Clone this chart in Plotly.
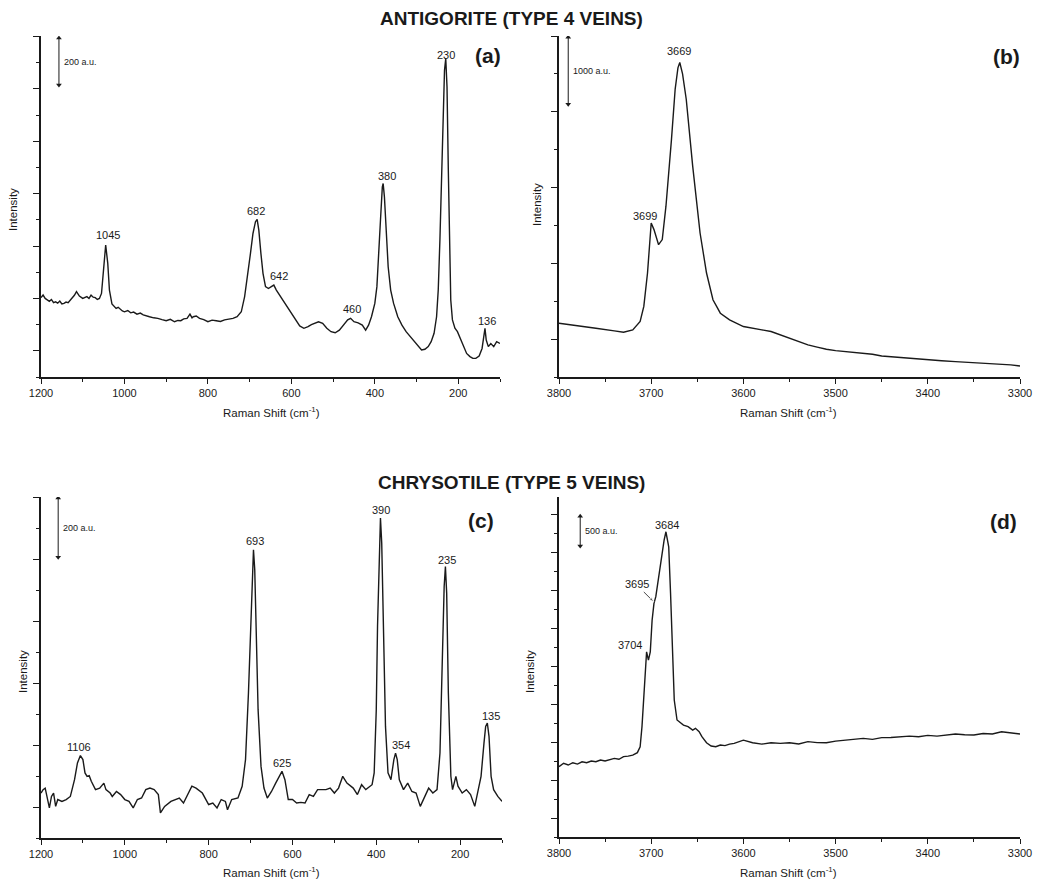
import plotly.graph_objects as go

# ---------------- data ----------------
# (a) Antigorite, low wavenumber region
a_x = [1200, 1195, 1190, 1185, 1180, 1175, 1170, 1165, 1160, 1155, 1150, 1145, 1140, 1135, 1130, 1125, 1120, 1115,
       1108, 1100, 1095, 1090, 1085, 1080, 1075, 1070, 1065, 1060, 1055, 1050, 1045, 1040, 1036, 1030, 1025, 1020,
       1015, 1010, 1005, 1000, 992, 985, 978, 970, 962, 955, 948, 940, 930, 920, 910, 900, 890, 880, 872, 865, 858,
       850, 843, 838, 835, 828, 820, 810, 800, 790, 780, 770, 760, 750, 740, 730, 720, 712, 705, 698, 692, 686, 682,
       678, 673, 668, 662, 655, 648, 642, 636, 628, 620, 610, 600, 590, 580, 570, 560, 552, 545, 535, 525, 515, 505,
       495, 485, 475, 465, 458, 450, 440, 430, 422, 415, 408, 400, 395, 390, 386, 382, 380, 377, 373, 368, 362, 355,
       345, 335, 325, 315, 305, 295, 288, 280, 272, 265, 258, 252, 248, 244, 240, 236, 233, 230, 227, 224, 221, 218,
       214, 208, 202, 195, 188, 180, 172, 165, 158, 150, 143, 139, 136, 133, 128, 122, 115, 108, 100]
a_y = [303, 313, 300, 294, 289, 296, 284, 287, 282, 290, 279, 281, 286, 284, 293, 303, 312, 326,
       309, 300, 304, 307, 300, 313, 305, 303, 296, 300, 319, 421, 504, 434, 332, 279, 272, 262,
       266, 258, 252, 249, 254, 245, 248, 240, 244, 237, 233, 230, 226, 224, 219, 215, 220, 211, 216, 215, 222,
       224, 240, 226, 230, 233, 224, 219, 211, 217, 215, 212, 218, 221, 224, 230, 249, 307, 383, 472, 548, 593, 602,
       561, 472, 396, 345, 338, 345, 351, 332, 313, 294, 268, 243, 218, 195, 186, 192, 200, 205, 211, 205, 186, 173,
       169, 179, 198, 218, 224, 211, 207, 198, 179, 198, 230, 281, 345, 472, 612, 726, 739, 688, 548, 421, 332, 281,
       230, 198, 173, 154, 135, 116, 103, 106, 116, 135, 167, 230, 332, 523, 777, 1032, 1171, 1216, 1108, 803, 485, 294,
       218, 186, 173, 148, 116, 90, 78, 71, 71, 80, 109, 167, 186, 141, 116, 128, 116, 135, 128]

# (b) Antigorite, OH stretching region
b_x = [3800, 3790, 3780, 3770, 3760, 3750, 3740, 3730, 3720, 3712, 3708, 3704, 3700, 3697, 3692, 3688, 3684, 3678,
       3674, 3671, 3669, 3666, 3662, 3655, 3647, 3640, 3633, 3625, 3615, 3600, 3590, 3580, 3570, 3560, 3550, 3540,
       3530, 3520, 3510, 3500, 3490, 3480, 3470, 3460, 3450, 3435, 3420, 3400, 3385, 3370, 3350, 3335, 3320, 3310,
       3300]
b_y = [710, 690, 675, 660, 644, 630, 609, 591, 622, 732, 931, 1372, 2033, 1945, 1746, 1813, 2254, 3136,
       3800, 4080, 4150, 4000, 3665, 2783, 1900, 1372, 1019, 842, 754, 666, 640, 622, 600, 556, 512, 470,
       423, 395, 366, 348, 335, 322, 318, 300, 278, 262, 247, 225, 215, 203, 190, 180, 168, 160,
       146]

# (c) Chrysotile, low wavenumber region
c_x = [1200, 1195, 1190, 1185, 1180, 1175, 1170, 1165, 1160, 1150, 1140, 1130, 1120, 1113, 1106, 1100, 1095, 1090,
       1085, 1080, 1070, 1060, 1050, 1045, 1035, 1030, 1020, 1010, 1000, 990, 980, 970, 960, 950, 940, 930, 920,
       915, 905, 890, 870, 860, 850, 840, 830, 815, 800, 790, 780, 770, 760, 755, 745, 730, 720, 712, 705, 700,
       696, 693, 690, 686, 682, 675, 668, 660, 650, 640, 630, 625, 618, 610, 600, 590, 580, 570, 560, 550, 540,
       520, 510, 500, 490, 480, 470, 455, 445, 435, 425, 410, 405, 400, 397, 393, 390, 387, 383, 378, 372, 365,
       358, 354, 350, 345, 335, 325, 315, 305, 295, 285, 275, 265, 255, 248, 243, 238, 235, 232, 228, 222, 218,
       210, 205, 195, 185, 175, 165, 158, 150, 143, 139, 135, 131, 126, 120, 110, 100]
c_y = [45, 56, 61, 29, -3, 34, 45, 2, 24, 18, 24, 34, 88, 142, 166, 153, 110, 99,
       101, 83, 56, 61, 77, 56, 45, 34, 50, 40, 24, 18, -3, 24, 29, 56, 61, 56, 40,
       -19, 2, 18, 29, 13, 40, 67, 61, 45, 8, 13, -3, 24, 18, -9, 24, 29, 67, 153, 368, 583,
       766, 830, 766, 530, 314, 131, 61, 29, 50, 77, 104, 115, 88, 24, 24, 13, 15, 13, 40, 34, 56,
       56, 61, 45, 61, 99, 77, 61, 40, 72, 56, 72, 110, 314, 583, 817, 932, 852, 583, 260, 110, 88,
       153, 174, 153, 88, 56, 77, 50, 45, 2, 29, 61, 45, 56, 174, 476, 712, 776, 690, 368, 99, 56,
       99, 67, 45, 56, 40, 2, 45, 99, 206, 260, 271, 228, 99, 56, 34, 18]

# (d) Chrysotile, OH stretching region
d_x = [3800, 3795, 3790, 3785, 3780, 3775, 3770, 3765, 3760, 3755, 3750, 3745, 3740, 3735, 3730, 3725, 3720, 3715,
       3712, 3710, 3707, 3705, 3703, 3701, 3699, 3697, 3695, 3692, 3689, 3686, 3684, 3681, 3679, 3677, 3675, 3672,
       3668, 3665, 3660, 3655, 3652, 3648, 3645, 3640, 3635, 3630, 3625, 3620, 3615, 3610, 3600, 3590, 3580, 3570,
       3560, 3550, 3540, 3530, 3520, 3510, 3500, 3490, 3480, 3470, 3460, 3450, 3440, 3430, 3420, 3410, 3400, 3390,
       3380, 3370, 3360, 3350, 3340, 3330, 3320, 3310, 3300]
d_y = [370, 388, 379, 391, 384, 396, 391, 400, 396, 405, 400, 409, 414, 409, 423, 426, 431, 444,
       475, 581, 791, 975, 931, 975, 1142, 1230, 1265, 1370, 1475, 1563, 1607, 1528, 1282, 931, 721, 616,
       598, 589, 581, 563, 572, 554, 528, 496, 479, 475, 484, 481, 489, 493, 510, 496, 489, 496,
       493, 496, 490, 502, 497, 496, 505, 510, 514, 519, 514, 523, 524, 528, 531, 528, 535, 531,
       537, 542, 538, 537, 545, 542, 554, 549, 542]

# peak labels: (text, x, y) in each panel's data units
a_labels = [("1045", 1040, 542), ("682", 685, 634), ("642", 630, 385), ("460", 455, 260),
            ("380", 371, 767), ("230", 230, 1229), ("136", 131, 214)]
b_labels = [("3669", 3670, 4299), ("3699", 3707, 2130)]
c_labels = [("1106", 1109, 194), ("693", 689, 858), ("625", 625, 142), ("390", 389, 958),
            ("354", 341, 200), ("235", 231, 797), ("135", 126, 294)]
d_labels = [("3684", 3683, 1642), ("3695", 3715, 1332), ("3704", 3723, 1011)]

# pointer from the "3695" label to the shoulder: (x_tail, y_tail, x_tip, y_tip)
d_pointer = (3708, 1290, 3697, 1237)

# scale bars: (text, x, y_top, y_bottom)
a_scale = ("200 a.u.", 1157, 1294, 1115)
b_scale = ("1000 a.u.", 3790, 4484, 3598)
c_scale = ("200 a.u.", 1159, 997, 806)
d_scale = ("500 a.u.", 3777, 1689, 1532)

titles = ["ANTIGORITE (TYPE 4 VEINS)", "CHRYSOTILE (TYPE 5 VEINS)"]
panel_tags = ["(a)", "(b)", "(c)", "(d)"]

# ---------------- figure ----------------
# the page body has an 8 px default margin, so the figure is made smaller
# and every reference pixel position is shifted by that margin
OFF = 8
W, H = 1042 - 2 * OFF, 880 - OFF
FONT = "Liberation Sans, Arial, Helvetica, sans-serif"
INK = "#1a1a1a"

fig = go.Figure()
for xs, ys, xa, ya in [(a_x, a_y, "x", "y"), (b_x, b_y, "x2", "y2"),
                       (c_x, c_y, "x3", "y3"), (d_x, d_y, "x4", "y4")]:
    fig.add_trace(go.Scatter(x=xs, y=ys, xaxis=xa, yaxis=ya, mode="lines",
                             line=dict(color=INK, width=1.4), showlegend=False,
                             hoverinfo="skip"))

# scale bars (double-headed arrows) as small traces
for (t, x, yt, yb), xa, ya in [(a_scale, "x", "y"), (b_scale, "x2", "y2"),
                               (c_scale, "x3", "y3"), (d_scale, "x4", "y4")]:
    fig.add_trace(go.Scatter(x=[x, x], y=[yb, yt], xaxis=xa, yaxis=ya, mode="lines+markers",
                             line=dict(color=INK, width=1),
                             marker=dict(symbol=["triangle-down", "triangle-up"], size=5, color=INK),
                             showlegend=False, hoverinfo="skip"))

# pointer arrow in (d)
fig.add_trace(go.Scatter(x=[d_pointer[0], d_pointer[2]], y=[d_pointer[1], d_pointer[3]],
                         xaxis="x4", yaxis="y4", mode="lines+markers",
                         line=dict(color=INK, width=0.8),
                         marker=dict(symbol=["circle", "arrow"], size=[0, 5], angleref="previous",
                                     color=INK),
                         showlegend=False, hoverinfo="skip"))


def px2dx(p):
    return (p - OFF) / W


def px2dy(p):
    return 1 - (p - OFF) / H


def xaxis(dom, rng, dtick, minor, anchor):
    return dict(domain=dom, range=rng, anchor=anchor, showgrid=False, zeroline=False,
                automargin=False,
                showline=True, linecolor=INK, linewidth=1.5, ticks="outside", ticklen=5,
                tickwidth=1.2, tickcolor=INK, dtick=dtick, tick0=0,
                tickfont=dict(family=FONT, size=11, color=INK),
                minor=dict(dtick=minor, ticks="outside", ticklen=3, tickwidth=1.2, tickcolor=INK))


def yaxis(dom, rng, dtick, tick0, minor, anchor):
    return dict(domain=dom, range=rng, anchor=anchor, showgrid=False, zeroline=False,
                automargin=False,
                showline=True, linecolor=INK, linewidth=1.5, ticks="outside", ticklen=6,
                tickwidth=1.2, tickcolor=INK, dtick=dtick, tick0=tick0, showticklabels=False,
                minor=dict(dtick=minor, tick0=tick0, ticks="outside", ticklen=3, tickwidth=1.2,
                           tickcolor=INK))


top_dom = [px2dy(377), px2dy(36)]
bot_dom_c = [px2dy(838), px2dy(497)]
bot_dom_d = [px2dy(837), px2dy(497)]
left_dom_a = [px2dx(41), px2dx(500)]
left_dom_c = [px2dx(41), px2dx(502)]
right_dom = [px2dx(559), px2dx(1020)]

fig.update_layout(
    width=W, height=H, margin=dict(l=0, r=0, t=0, b=0, pad=0),
    paper_bgcolor="white", plot_bgcolor="white",
    xaxis=xaxis(left_dom_a, [1200, 100], 200, 100, "y"),
    yaxis=yaxis(top_dom, [0, 1302], 200, 100, 100, "x"),
    xaxis2=xaxis(right_dom, [3800, 3300], 100, 50, "y2"),
    yaxis2=yaxis(top_dom, [0, 4500], 1000, 500, 500, "x2"),
    xaxis3=xaxis(left_dom_c, [1200, 100], 200, 100, "y3"),
    yaxis3=yaxis(bot_dom_c, [-100, 1000], 200, 0, 100, "x3"),
    xaxis4=xaxis(right_dom, [3800, 3300], 100, 50, "y4"),
    yaxis4=yaxis(bot_dom_d, [0, 1790], 200, 100, 100, "x4"),
)

ann = []


def paper_text(text, px, py, size, angle=0):
    return dict(text=text, x=px2dx(px), y=px2dy(py), xref="paper", yref="paper",
                xanchor="center", yanchor="middle", textangle=angle, showarrow=False,
                font=dict(family=FONT, size=size, color=INK))


# main titles
for t, py in zip(titles, [19, 482]):
    ann.append(paper_text("<b>%s</b>" % t, 511, py, 19))
# panel tags
for t, (px, py) in zip(panel_tags, [(488, 55), (1006, 57), (481, 520), (1003, 521)]):
    ann.append(paper_text("<b>%s</b>" % t, px, py, 21))
# axis titles
for px, py in [(271, 412), (788, 412), (271, 872), (788, 872)]:
    ann.append(paper_text("Raman Shift (cm<sup>-1</sup>)", px, py, 11.5))
for px, py in [(13, 210), (537, 205), (23, 672), (530, 672)]:
    ann.append(paper_text("Intensity", px, py, 11.5, -90))
# peak labels
for labels, xr, yr in [(a_labels, "x", "y"), (b_labels, "x2", "y2"),
                       (c_labels, "x3", "y3"), (d_labels, "x4", "y4")]:
    for t, x, y in labels:
        ann.append(dict(text=t, x=x, y=y, xref=xr, yref=yr, xanchor="center", yanchor="middle",
                        showarrow=False, font=dict(family=FONT, size=11, color=INK)))
# scale bar texts
for (t, x, yt, yb), xr, yr in [(a_scale, "x", "y"), (b_scale, "x2", "y2"),
                               (c_scale, "x3", "y3"), (d_scale, "x4", "y4")]:
    ann.append(dict(text=t, x=x, y=(yt + yb) / 2, xref=xr, yref=yr, xanchor="left",
                    yanchor="middle", xshift=3, showarrow=False,
                    font=dict(family=FONT, size=9, color=INK)))

fig.update_layout(annotations=ann)
fig.write_html("out.html")
